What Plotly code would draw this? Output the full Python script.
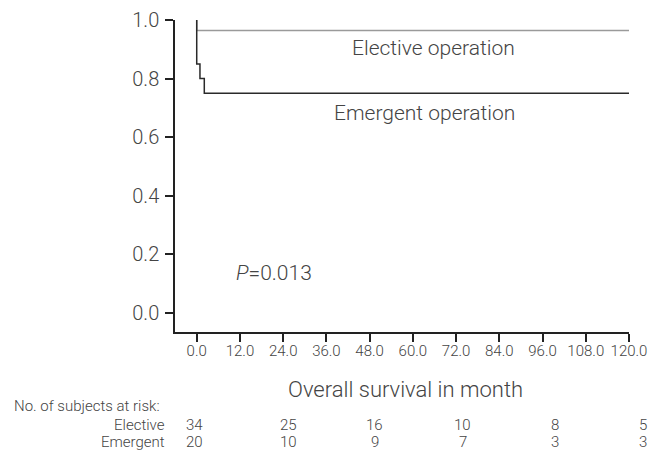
import plotly.graph_objects as go

# Kaplan-Meier step data (months, survival)
elective_t = [0, 0, 120]
elective_s = [1.0, 0.964, 0.964]
emergent_t = [0, 0, 0.9, 0.9, 2.1, 2.1, 120]
emergent_s = [1.0, 0.85, 0.85, 0.80, 0.80, 0.75, 0.75]

x_ticks = [0, 12, 24, 36, 48, 60, 72, 84, 96, 108, 120]
y_ticks = [0.0, 0.2, 0.4, 0.6, 0.8, 1.0]

risk_groups = ["Elective", "Emergent"]
risk_elective = [34, 25, 16, 10, 8, 5]
risk_emergent = [20, 10, 9, 7, 3, 3]
risk_xpos = [0.044, 0.249, 0.4405, 0.634, 0.837, 1.031]

FONT = "Roboto"
TXT = "#444444"

fig = go.Figure()
fig.add_trace(go.Scatter(x=elective_t, y=elective_s, mode="lines",
                         line=dict(color="#9a9a9a", width=1.5, shape="hv"),
                         showlegend=False, cliponaxis=False))
fig.add_trace(go.Scatter(x=emergent_t, y=emergent_s, mode="lines",
                         line=dict(color="#2a2a2a", width=1.5, shape="hv"),
                         showlegend=False, cliponaxis=False))

ann = []
ann.append(dict(x=88.9, y=0.904, xref="x", yref="y", text="Elective operation",
                showarrow=False, xanchor="right", yanchor="middle",
                font=dict(size=21, color=TXT, family=FONT, weight=300)))
ann.append(dict(x=88.9, y=0.683, xref="x", yref="y", text="Emergent operation",
                showarrow=False, xanchor="right", yanchor="middle",
                font=dict(size=21, color=TXT, family=FONT, weight=300)))
ann.append(dict(x=10.3, y=0.137, xref="x", yref="y", text="<i>P</i>=0.013",
                showarrow=False, xanchor="left", yanchor="middle",
                font=dict(size=21, color=TXT, family=FONT, weight=300)))
ann.append(dict(x=(405 - 175) / 454, y=(332 - 389) / 312, xref="paper", yref="paper",
                text="Overall survival in month", showarrow=False,
                xanchor="center", yanchor="middle",
                font=dict(size=22, color=TXT, family=FONT, weight=300)))
ann.append(dict(x=(12 - 175) / 454, y=(332 - 406) / 312, xref="paper", yref="paper",
                text="No. of subjects at risk:", showarrow=False,
                xanchor="left", yanchor="middle",
                font=dict(size=15, color=TXT, family=FONT, weight=300)))
rows = [risk_elective, risk_emergent]
row_y = [(332 - 425) / 312, (332 - 442) / 312]
for g, vals, yy in zip(risk_groups, rows, row_y):
    ann.append(dict(x=(167 - 175) / 454, y=yy, xref="paper", yref="paper",
                    text=g, showarrow=False, xanchor="right", yanchor="middle",
                    font=dict(size=15, color=TXT, family=FONT, weight=300)))
    for v, xp in zip(vals, risk_xpos):
        ann.append(dict(x=xp, y=yy, xref="paper", yref="paper",
                        text=str(v), showarrow=False, xanchor="center", yanchor="middle",
                        font=dict(size=15, color=TXT, family=FONT, weight=300)))

fig.update_layout(
    width=650, height=452,
    margin=dict(l=175, r=21, t=20, b=120),
    paper_bgcolor="white", plot_bgcolor="white",
    annotations=ann,
    xaxis=dict(range=[-6.03, 120], tickvals=x_ticks,
               ticktext=[f"{v:.1f}" for v in x_ticks],
               automargin=False, ticklabelstandoff=-4,
               showgrid=False, zeroline=False, showline=True,
               linecolor="#222222", linewidth=1.5,
               ticks="outside", ticklen=8, tickwidth=1.5, tickcolor="#222222",
               tickfont=dict(size=15, color=TXT, family=FONT, weight=300)),
    yaxis=dict(range=[-0.0648, 1.0], tickvals=y_ticks,
               ticktext=[f"{v:.1f}" for v in y_ticks],
               automargin=False, ticklabelstandoff=2,
               showgrid=False, zeroline=False, showline=True,
               linecolor="#222222", linewidth=1.5,
               ticks="outside", ticklen=8, tickwidth=1.5, tickcolor="#222222",
               tickfont=dict(size=20, color=TXT, family=FONT, weight=300)),
)

fig.write_html("out.html", config={"displayModeBar": False})
with open("out.html", "r", encoding="utf-8") as f:
    html = f.read()
html = html.replace("<head>", "<head><style>html,body{margin:0;padding:0;overflow:hidden;}</style>", 1)
with open("out.html", "w", encoding="utf-8") as f:
    f.write(html)
